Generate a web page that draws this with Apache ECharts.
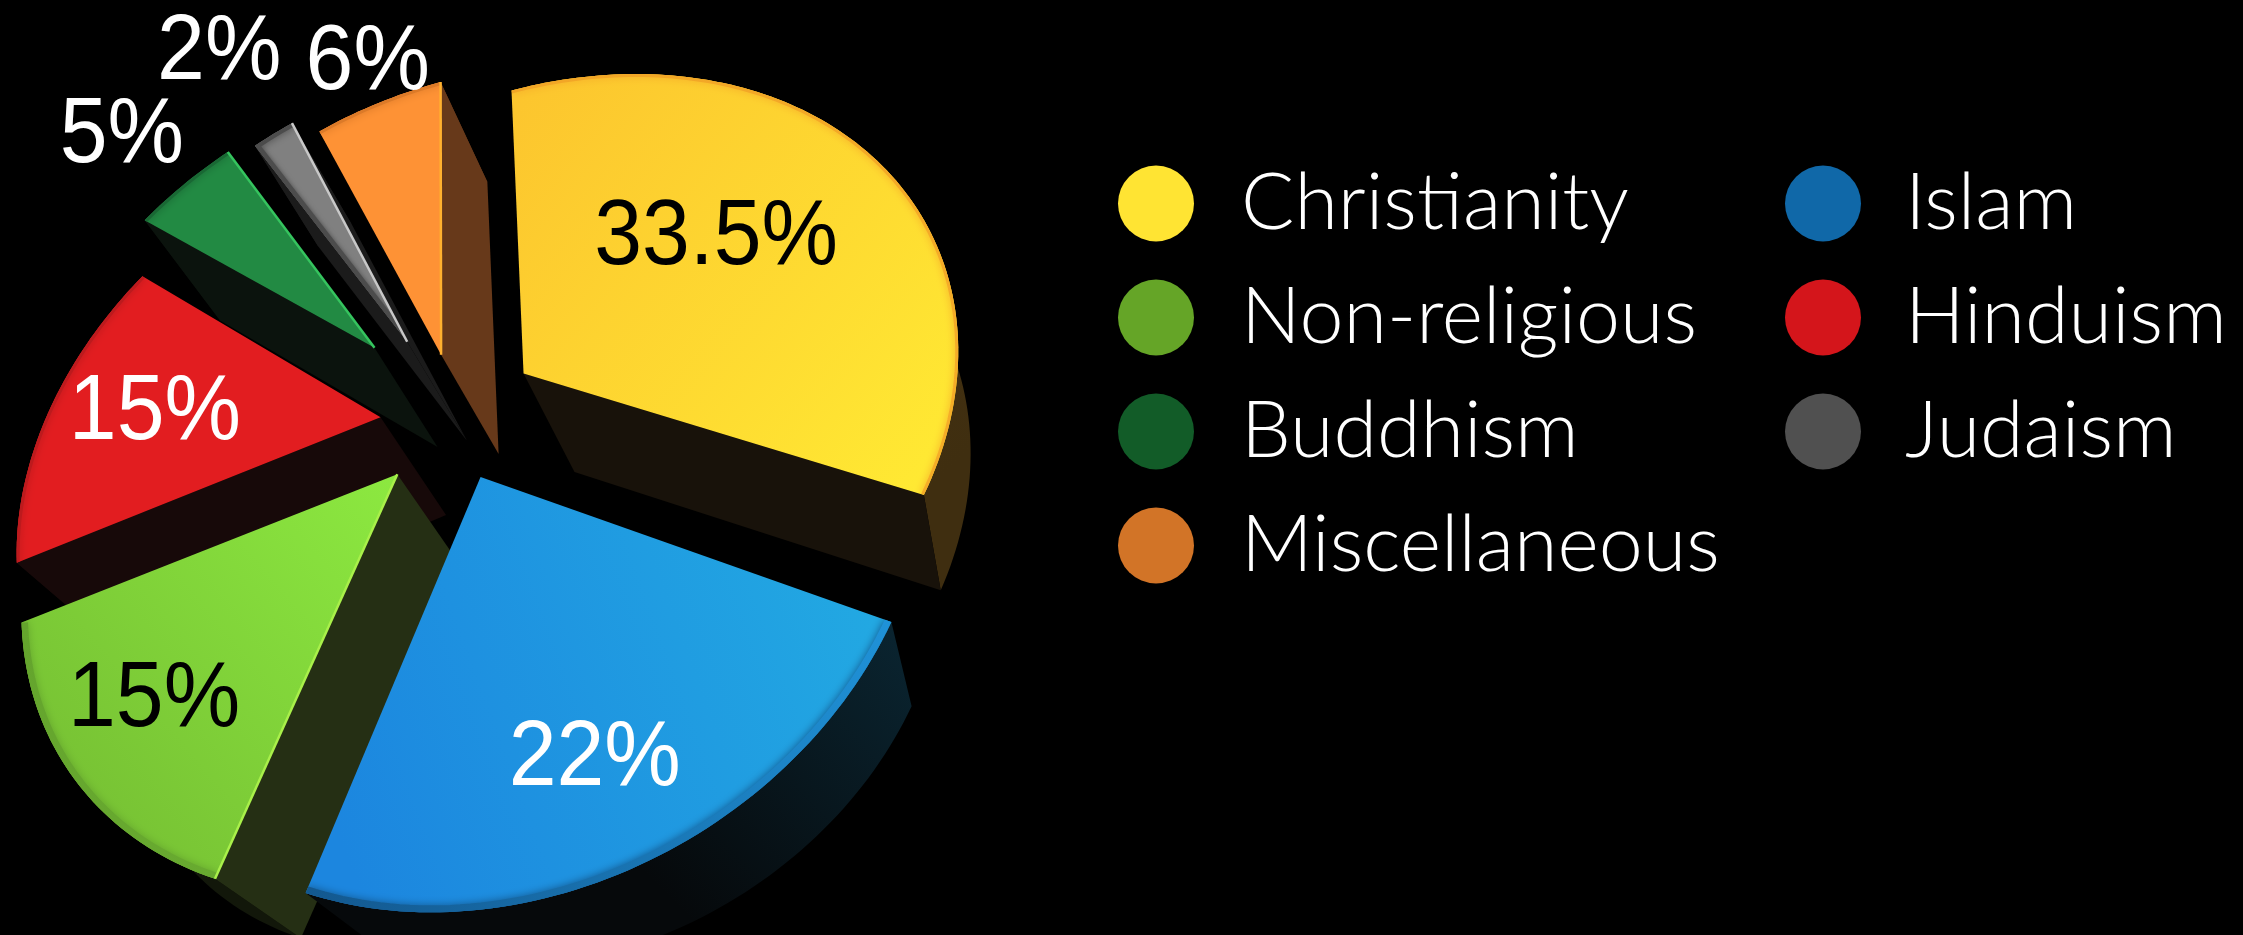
<!doctype html>
<html>
<head>
<meta charset="utf-8">
<style>html,body{margin:0;background:#000}#chart{width:2243px;height:935px}</style>
<script src="https://cdn.jsdelivr.net/npm/echarts@6/dist/echarts.min.js"></script>
</head>
<body>
<div id="chart"></div>
<script>
// World religions by share of population.
const religions = ['Christianity', 'Islam', 'Non-religious', 'Hinduism', 'Buddhism', 'Judaism', 'Miscellaneous'];
const shares = [33.5, 22, 15, 15, 5, 2, 6];

// Colours of the lit top face (gradient start, gradient end).
const faceColors = [['#fcc52e', '#ffe933'], ['#1c86df', '#22a8e2'], ['#78c334', '#8ce840'], ['#e21d20', '#e21d20'],
  ['#228a43', '#228a43'], ['#808080', '#808080'], ['#fe9235', '#fe9235']];
// Bevel just inside the rim: colour from the wedge's first edge to its last edge, and width.
const rimColors = [['#f2a626', '#f5ad28'], ['#1f92d8', '#13588f'], ['#68aa30', '#64a42d'], ['#bd1a1d', '#bd1a1d'],
  ['#196834', '#196834'], ['#4c4c4c', '#4c4c4c'], ['#dc7a28', '#dc7a28']];
const rimWidths = [6, 14, 13, 6, 6, 8, 6];
const wallColors = ['#18120a', '#080d10', '#252f14', '#170909', '#0b130d', '#1b1b1b', '#67391a'];
const sideColors = [['#523d15', '#3f2e10'], ['#0a2430', '#06090b'], ['#12170a', '#12170a'], ['#170909', '#170909'],
  ['#0b130d', '#0b130d'], ['#1b1b1b', '#1b1b1b'], ['#67391a', '#67391a']];
const glintColors = [null, null, '#a9f04a', null, '#35c45e', '#c8c8c8', '#ffb12f'];
const glintEdges = [null, null, 'start', null, 'end', 'end', 'end'];
const labelColors = ['#000', '#fff', '#000', '#fff', '#fff', '#fff', '#fff'];

// Legend swatches and how the two columns are split.
const legendColors = ['#ffe433', '#1068a8', '#65a527', '#d4151b', '#125c28', '#505050', '#d27427'];
const legendColumns = [['Christianity', 'Non-religious', 'Buddhism', 'Miscellaneous'], ['Islam', 'Hinduism', 'Judaism']];

// Back-to-front painting order of the wedges.
const paintOrder = [6, 5, 4, 3, 2, 1, 0];

// How far each wedge is pulled out, and where its label sits relative to the bisector (pie radius = 1).
const explode = [0.1941, 0.1887, 0.1958, 0.2044, 0.3529, 0.3024, 0.2101];
const labelRadius = [0.591, 0.748, 0.749, 0.668, 1.411, 1.526, 1.223];
const labelTurn = [-2.8, -0.4, 1.1, 1.8, 0.2, 0.3, 0.1];

// Camera: plane homography of the pie's top face and the vanishing point of its thickness.
const H = [71.30339, 364.3718, 456.9588, -269.2565, -110.6683, 418.8605, 0.1630332, -0.06646224];
const VANISH = [1100, 1490];
const total = shares.reduce((a, b) => a + b, 0);

function project(u, v) {
  const w = H[6] * u + H[7] * v + 1;
  return [(H[0] * u + H[1] * v + H[2]) / w, (H[3] * u + H[4] * v + H[5]) / w];
}
function extrude(p) {
  const k = Math.min(0.097, 0.066 + 0.00006 * p[1]);
  return [p[0] + k * (VANISH[0] - p[0]), p[1] + k * (VANISH[1] - p[1])];
}
// A radial wall shows only when the thickness runs away from the wedge's interior.
function wallFaces(p, q, inside) {
  const d = extrude(p);
  const side = (a) => (q[0] - p[0]) * (a[1] - p[1]) - (q[1] - p[1]) * (a[0] - p[0]);
  return side(d) * side(inside) < 0;
}

function wedgeItem(index) {
  return function (params, api) {
    const before = api.value(0), share = api.value(1);
    const a0 = before / total * Math.PI * 2, a1 = (before + share) / total * Math.PI * 2;
    const mid = (a0 + a1) / 2, e = explode[index];
    const ox = e * Math.cos(mid), oy = e * Math.sin(mid);
    const apex = project(ox, oy);
    const steps = Math.max(6, Math.round(share * 3));
    const arc = [];
    for (let s = 0; s <= steps; s++) {
      const t = a0 + (a1 - a0) * s / steps;
      arc.push(project(ox + Math.cos(t), oy + Math.sin(t)));
    }
    const first = arc[0], last = arc[arc.length - 1], centre = arc[steps >> 1];
    const poly = (pts, fill) => ({ type: 'polygon', shape: { points: pts }, style: { fill: fill } });
    const grad = (c, p, q) => new echarts.graphic.LinearGradient(p[0], p[1], q[0], q[1],
      [{ offset: 0, color: c[0] }, { offset: 1, color: c[1] }], true);
    const children = [];
    const topFace = [apex].concat(arc);

    // Thickness: curved outer wall, then whichever radial walls face the viewer.
    children.push(poly(arc.concat(arc.map(extrude).reverse()),
      grad(sideColors[index], first, index === 1 ? centre : last)));
    if (wallFaces(apex, first, centre)) children.push(poly([apex, first, extrude(first), extrude(apex)], wallColors[index]));
    if (wallFaces(apex, last, centre)) children.push(poly([apex, last, extrude(last), extrude(apex)], wallColors[index]));

    // Lit top face with a soft bevel inside the rim.
    const chord = index === 1 ? [[340, 840], [880, 640]] : index === 2 ? [[60, 760], [390, 480]] : [[515, 90], [950, 450]];
    children.push(poly(topFace, grad(faceColors[index], chord[0], chord[1])));
    const clip = { type: 'polygon', shape: { points: topFace } };
    children.push({ type: 'polyline', shape: { points: arc }, clipPath: clip,
      style: { fill: null, stroke: grad(rimColors[index], first, last), lineWidth: rimWidths[index],
        shadowBlur: 8, shadowColor: rimColors[index][1] } });
    if (index === 5) {
      children.push({ type: 'line', shape: { x1: apex[0], y1: apex[1], x2: first[0], y2: first[1] }, clipPath: clip,
        style: { stroke: rimColors[index][0], lineWidth: 9, shadowBlur: 5, shadowColor: rimColors[index][0] } });
    }

    if (glintEdges[index]) {
      const end = glintEdges[index] === 'start' ? first : last;
      children.push({ type: 'line', shape: { x1: apex[0], y1: apex[1], x2: end[0], y2: end[1] },
        style: { stroke: glintColors[index], lineWidth: 2.5 } });
    }

    // Percentage label, slightly stretched like the rest of the tilted artwork.
    const la = mid + labelTurn[index] * Math.PI / 180;
    const at = project(ox + labelRadius[index] * Math.cos(la), oy + labelRadius[index] * Math.sin(la));
    children.push({ type: 'text', z2: 50, x: at[0], y: at[1] + 8, scaleX: 1, scaleY: 1.07, style: {
      x: 0, y: 0, text: share + '%', fill: labelColors[index],
      font: '86px "Liberation Sans"', align: 'center', verticalAlign: 'middle' } });

    return { type: 'group', children: children };
  };
}

const before = shares.map((_, i) => shares.slice(0, i).reduce((a, b) => a + b, 0));
const series = paintOrder.map(i => ({
  type: 'custom', name: religions[i], coordinateSystem: 'none', silent: true,
  itemStyle: { color: legendColors[i] },
  renderItem: wedgeItem(i),
  data: [[before[i], shares[i]]]
}));

const legendBase = {
  orient: 'vertical', top: 164, padding: 0, icon: 'circle', itemWidth: 76, itemHeight: 76, itemGap: 35,
  selectedMode: false
};
const legendText = indent => ({ color: '#fff', fontFamily: 'Lato', fontWeight: 300, fontSize: 79, lineHeight: 76, padding: [0, 0, 0, indent] });
const legendOf = names => names.map(n => ({ name: n, itemStyle: { color: legendColors[religions.indexOf(n)] } }));

const chart = echarts.init(document.getElementById('chart'), null, { renderer: 'canvas' });
chart.setOption({
  backgroundColor: '#000',
  animation: false,
  legend: [
    Object.assign({}, legendBase, { left: 1118, textStyle: legendText(42), data: legendOf(legendColumns[0]) }),
    Object.assign({}, legendBase, { left: 1785, textStyle: legendText(39), data: legendOf(legendColumns[1]) })
  ],
  series: series
});
</script>
</body>
</html>
